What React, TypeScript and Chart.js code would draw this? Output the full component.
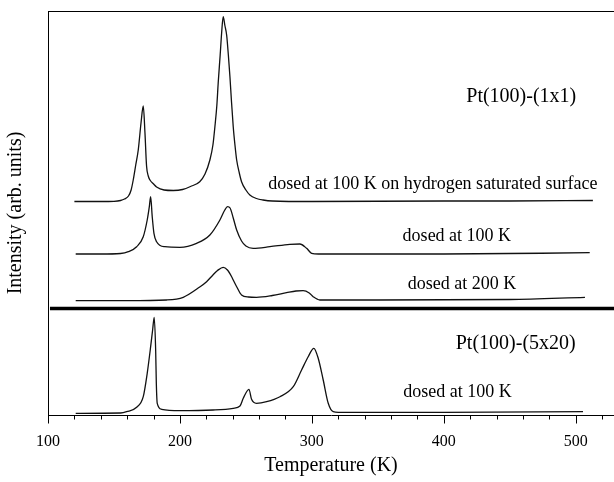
import React, { useEffect, useRef } from 'react';
import { Chart, registerables } from 'chart.js';

Chart.register(...registerables);

const FONT = '"Liberation Serif", "Times New Roman", serif';

// Temperature axis (K)
const xMin = 100;
const xMax = 529;
const majorTicks = [100, 200, 300, 400, 500];
const minorTicks = [120, 140, 160, 180, 220, 240, 260, 280, 320, 340, 360, 380, 420, 440, 460, 480, 520];

// Pt(100)-(1x1), dosed at 100 K on hydrogen saturated surface (offset trace, arb. units)
const tempH = [120, 140, 150, 155, 158, 161, 163, 164.6, 166.5, 168.4, 170.5, 172.2, 173.5, 174.7, 176, 177.3, 180, 182.3, 188, 195, 202, 208, 215, 219, 222.7, 225, 226.5, 228, 229, 230.5, 231.6, 232.8, 234, 235.4, 236.7, 237.9, 239, 240.4, 241.7, 243, 245, 246.7, 250, 253, 258, 263, 270, 300, 400, 450, 513];
const intH = [213.5, 213.5, 213.7, 214.5, 216, 219, 225, 235, 250, 265, 292, 309, 282, 249, 239, 235, 231, 228, 225, 224.5, 225.5, 228.5, 233.3, 241, 255, 270, 288.3, 310, 332, 360, 382, 398.3, 390, 380, 360, 338.3, 315, 288.3, 270, 255, 242, 233.3, 225, 220, 216.5, 215, 214, 213.5, 214, 214, 214.5];

// Pt(100)-(1x1), dosed at 100 K
const temp100 = [121, 140, 155, 160.9, 167.2, 172.2, 175.2, 176.8, 177.8, 179, 180.3, 182.3, 188.6, 200, 212.6, 222.7, 230.3, 234, 236.1, 238, 240.4, 243, 246.7, 250, 255.5, 268.2, 283.3, 290.9, 296, 299.8, 305, 400, 510.6];
const int100 = [161, 161, 161.5, 163.3, 168.3, 178.3, 195, 208.3, 218.3, 198.3, 181.7, 173.3, 168.3, 167.7, 171.7, 180, 195, 205, 208.3, 207, 197, 185, 174, 169, 166.7, 168.3, 170.7, 171, 166.7, 161.7, 161, 161, 162.3];

// Pt(100)-(1x1), dosed at 200 K
const temp200 = [121, 160, 189.9, 202.5, 215, 220.2, 225, 228.5, 232.8, 236, 239.2, 240.4, 243, 246.7, 252, 258, 270, 280.8, 288, 293.4, 298, 301, 306, 350, 450, 507];
const int200 = [114.3, 114.3, 115, 117.7, 128, 133.3, 140, 144.5, 147.7, 145, 138.3, 135, 128.3, 120, 118, 117.7, 119.5, 122.3, 124, 124.3, 122, 118.3, 115, 115, 115.5, 117.7];

// Pt(100)-(5x20), dosed at 100 K
const temp5x20 = [121, 155, 159.6, 167.2, 172.2, 175.2, 177.8, 179.3, 180.5, 181.6, 182.1, 182.8, 186.1, 200, 225.2, 240.4, 245.5, 248, 252.3, 254.3, 258, 265.7, 275.8, 285.9, 292.2, 297.2, 301.5, 304.8, 308.6, 312.4, 316.2, 320, 400, 505.5];
const int5x20 = [1.7, 2, 3.3, 7.7, 18.3, 41.7, 68.3, 85, 97.7, 65, 31.7, 11.7, 5.7, 4.3, 5, 6.7, 9, 16.7, 25.7, 15.7, 11.7, 13.3, 18.3, 28.3, 45, 58.3, 66.7, 56.7, 35, 11.7, 3.3, 2.7, 2.7, 3.3];

// Thick separator between the two panels
const sepTemp = [101.5, 529];
const sepInt = [106.5, 106.5];

// Text labels
const annText = [
  'Pt(100)-(1x1)',
  'dosed at 100 K on hydrogen saturated surface',
  'dosed at 100 K',
  'dosed at 200 K',
  'Pt(100)-(5x20)',
  'dosed at 100 K',
];
const annTemp = [458.7, 391.7, 409.9, 413.8, 454.5, 410.4];
const annInt = [318.3, 230.3, 179, 130.6, 71, 22.6];
const annSize = [20, 18, 18, 18, 20, 18];

const toPts = (xs: number[], ys: number[]) => xs.map((x, i) => ({ x, y: ys[i] }));

const framePlugin = {
  id: 'framePlugin',
  afterDraw(chart: any) {
    const { ctx, chartArea, scales } = chart;
    const xs = scales.x;
    const ys = scales.y;
    ctx.save();
    ctx.strokeStyle = '#000';
    ctx.lineWidth = 1;
    // top frame line
    ctx.beginPath();
    ctx.moveTo(chartArea.left, Math.round(chartArea.top) + 0.5);
    ctx.lineTo(chart.width, Math.round(chartArea.top) + 0.5);
    ctx.stroke();
    // tick marks below the x axis
    const base = Math.round(chartArea.bottom) + 0.5;
    const drawTick = (v: number, len: number) => {
      const px = Math.round(xs.getPixelForValue(v)) + 0.5;
      ctx.beginPath();
      ctx.moveTo(px, base);
      ctx.lineTo(px, base + len);
      ctx.stroke();
    };
    majorTicks.forEach((v) => drawTick(v, 8));
    minorTicks.forEach((v) => drawTick(v, 4));
    // annotations
    ctx.fillStyle = '#000';
    ctx.textAlign = 'center';
    ctx.textBaseline = 'middle';
    annText.forEach((t, i) => {
      ctx.font = `${annSize[i]}px ${FONT}`;
      ctx.fillText(t, xs.getPixelForValue(annTemp[i]), ys.getPixelForValue(annInt[i]));
    });
    ctx.restore();
  },
};

export default function App() {
  const ref = useRef<HTMLCanvasElement | null>(null);

  useEffect(() => {
    document.body.style.margin = '0';
    const canvas = ref.current;
    if (!canvas) return;
    const line = (data: any, width: number) => ({
      data,
      borderColor: '#111',
      borderWidth: width,
      pointRadius: 0,
      fill: false,
      cubicInterpolationMode: 'monotone' as const,
    });
    const chart = new Chart(canvas, {
      type: 'line',
      data: {
        datasets: [
          { label: 'H saturated', ...line(toPts(tempH, intH), 1.3) },
          { label: 'dosed 100 K', ...line(toPts(temp100, int100), 1.3) },
          { label: 'dosed 200 K', ...line(toPts(temp200, int200), 1.3) },
          { label: '5x20 dosed 100 K', ...line(toPts(temp5x20, int5x20), 1.3) },
          { label: 'separator', ...line(toPts(sepTemp, sepInt), 3.5), borderColor: '#000' },
        ],
      },
      options: {
        animation: false,
        responsive: false,
        layout: { padding: { top: 11, right: 0, left: 0, bottom: 0 } },
        plugins: { legend: { display: false }, tooltip: { enabled: false } },
        scales: {
          x: {
            type: 'linear',
            min: xMin,
            max: xMax,
            grid: { display: true, drawOnChartArea: false, drawTicks: false },
            border: { display: true, color: '#000', width: 1 },
            ticks: {
              stepSize: 20,
              autoSkip: false,
              maxRotation: 0,
              padding: 17,
              color: '#000',
              font: { family: FONT, size: 16 },
              callback: (v: any) => (majorTicks.includes(Number(v)) ? String(v) : ''),
            },
            title: {
              display: true,
              text: 'Temperature (K)',
              color: '#000',
              font: { family: FONT, size: 20 },
              padding: { top: 0, bottom: 4 },
            },
            afterFit: (s: any) => {
              s.height = 67;
              s.paddingLeft = 0;
              s.paddingRight = 0;
            },
          },
          y: {
            type: 'linear',
            min: 0,
            max: 404,
            grid: { display: true, drawOnChartArea: false, drawTicks: false },
            border: { display: true, color: '#000', width: 1 },
            ticks: { display: false },
            title: {
              display: true,
              text: 'Intensity (arb. units)',
              color: '#000',
              font: { family: FONT, size: 20 },
              padding: { top: 4, bottom: 0 },
            },
            afterFit: (s: any) => {
              s.width = 48;
              s.paddingTop = 0;
              s.paddingBottom = 0;
            },
          },
        },
      },
      plugins: [framePlugin],
    });
    return () => chart.destroy();
  }, []);

  return (
    <div style={{ position: 'absolute', left: 0, top: 0, width: 614, height: 482, background: '#fff' }}>
      <canvas ref={ref} width={614} height={482} />
    </div>
  );
}
